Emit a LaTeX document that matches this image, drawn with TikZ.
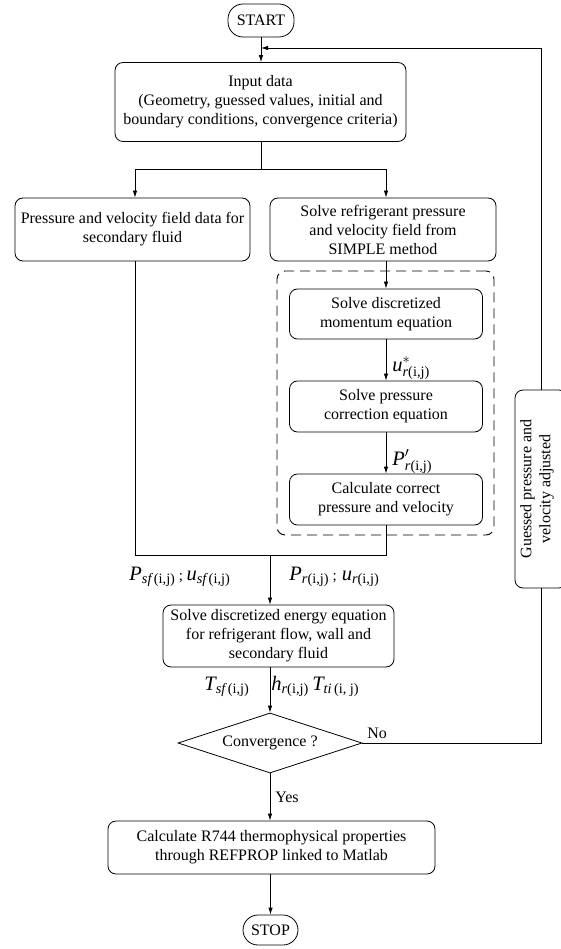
\documentclass[tikz,border=0pt]{standalone}
\usepackage{fontspec}
\usepackage{amsmath}
\setmainfont{Liberation Serif}
\usetikzlibrary{arrows.meta,shapes.geometric}
\begin{document}
\begin{tikzpicture}[x=1pt,y=-1pt,line width=0.8pt,
 every node/.style={font=\fontsize{16}{19}\selectfont, inner sep=0pt},
 box/.style={draw, rounded corners=8pt, align=center},
 term/.style={draw, rounded corners=15pt},
 arr/.style={-{Latex[length=7pt,width=4.5pt]}},
 lab/.style={font=\fontsize{20.5}{22}\selectfont, anchor=base west}]
\useasboundingbox (0,0) rectangle (561,949);
% nodes
\node[term, minimum width=66pt, minimum height=33pt] (start) at (261,20.5) {START};
\node[box, minimum width=291pt, minimum height=79pt] (input) at (260.5,102) {Input data\\(Geometry, guessed values, initial and\\boundary conditions, convergence criteria)};
\node[box, minimum width=235pt, minimum height=63pt] (left) at (132.5,229.5) {Pressure and velocity field data for\\secondary fluid};
\node[box, minimum width=226pt, minimum height=63pt] (right) at (383,229.5) {Solve refrigerant pressure\\and velocity field from\\SIMPLE method};
\node[draw, line width=0.9pt, dash pattern=on 10pt off 6pt, rounded corners=8pt, minimum width=217pt, minimum height=264pt] (simple) at (385.5,403) {};
\node[box, minimum width=193pt, minimum height=50pt] (m1) at (386,314) {Solve discretized\\momentum equation};
\node[box, minimum width=193pt, minimum height=51pt] (m2) at (386,406.5) {Solve pressure\\correction equation};
\node[box, minimum width=193pt, minimum height=51pt] (m3) at (386,499.5) {Calculate correct\\pressure and velocity};
\node[box, minimum width=231pt, minimum height=62pt] (energy) at (278.5,636) {Solve discretized energy equation\\for refrigerant flow, wall and\\secondary fluid};
\node[draw, diamond, aspect=3.07, minimum width=184pt, minimum height=60pt] (conv) at (270,743) {Convergence ?};
\node[box, minimum width=327pt, minimum height=53pt] (calc) at (271.5,847.5) {Calculate R744 thermophysical properties\\through REFPROP linked to Matlab};
\node[term, minimum width=55pt, minimum height=30pt] (stop) at (270.5,930) {STOP};
\node[box, minimum width=52pt, minimum height=198pt] (guess) at (541,489) {};
\node[rotate=90, align=center] (guesstxt) at (537,489) {Guessed pressure and\\velocity adjusted};
% labels
\node[lab] (lu) at (392,371) {$\textit{u}^{*}_{\textit{r}\text{(i,j)}}$};
\node[lab] (lp) at (392,465) {$\textit{P}'_{\textit{r}\text{(i,j)}}$};
\node[lab] (lsf) at (129,580) {$\textit{P}_{\textit{sf}\,\text{(i,j)}}$\,{\fontsize{15}{19}\selectfont;}\,$\textit{u}_{\textit{sf}\,\text{(i,j)}}$};
\node[lab] (lr) at (289,580) {$\textit{P}_{\textit{r}\text{(i,j)}}$\,{\fontsize{15}{19}\selectfont;}\ $\textit{u}_{\textit{r}\text{(i,j)}}$};
\node[lab] (ltsf) at (204,690) {$\textit{T}_{\textit{sf}\,\text{(i,j)}}$};
\node[lab] (lhr) at (271,690) {$\textit{h}_{\textit{r}\text{(i,j)}}$\,$\textit{T}_{\textit{ti}\,\text{(i, j)}}$};
\node[anchor=west] (yes) at (275,797) {Yes};
\node[anchor=base west] (no) at (367,738) {No};
% connectors
\coordinate (sl) at (135,169);
\coordinate (sr) at (386,169);
\coordinate (ml) at (135,555);
\coordinate (mr) at (386,555);
\coordinate (mg) at (270,555);
\coordinate (lp) at (261,48);
\draw[arr] (start.south) -- (start.south |- input.north);
\draw (input.south -| start) -- (start |- sl);
\draw (sl) -- (sr);
\draw[arr] (sl) -- (sl |- left.north);
\draw[arr] (sr) -- (sr |- right.north);
\draw[arr] (right.south -| m1) -- (m1.north);
\draw[arr] (m1) -- (m2);
\draw[arr] (m2) -- (m3);
\draw (left.south -| ml) -- (ml) -- (mr) -- (m3.south);
\draw[arr] (mg) -- (mg |- energy.north);
\draw[arr] (energy.south -| mg) -- (conv.north);
\draw[arr] (conv.south) -- (conv.south |- calc.north);
\draw[arr] (calc.south -| stop) -- (stop.north);
\draw (conv.east) -- (conv.east -| guess) -- (guess.south);
\draw[arr] (guess.north) -- (guess.north |- lp) -- (lp);
\end{tikzpicture}
\end{document}
